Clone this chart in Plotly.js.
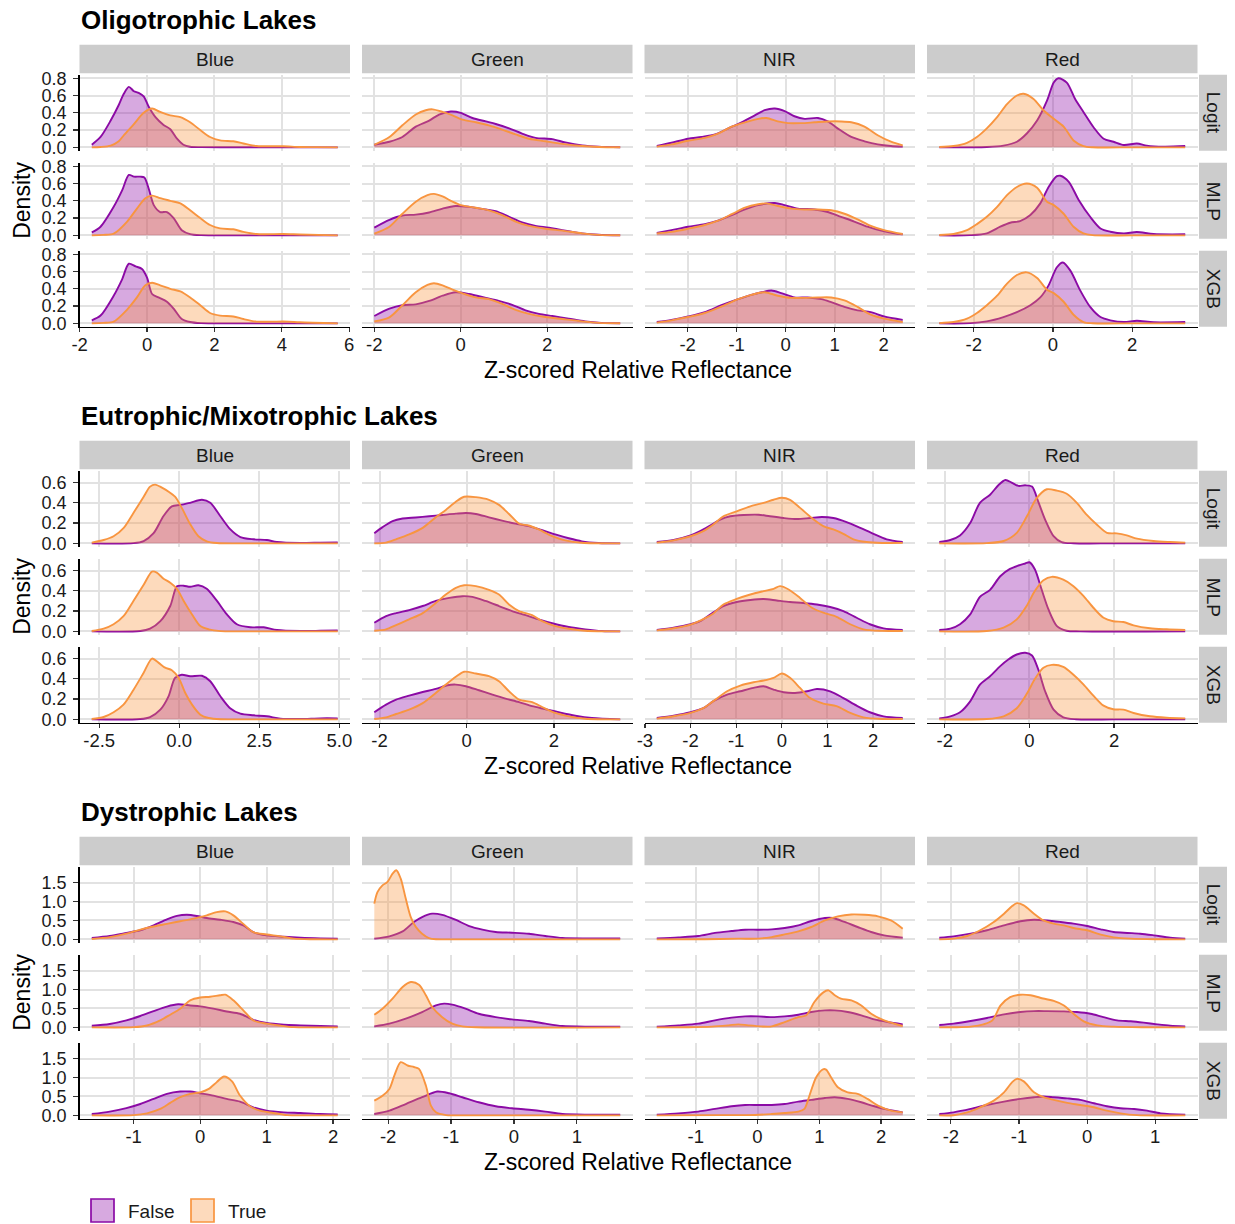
<!DOCTYPE html>
<html>
<head>
<meta charset="utf-8">
<script src="https://cdn.plot.ly/plotly-3.0.1.min.js"></script>
<style>html,body{margin:0;padding:0;background:#fff;}#chart{width:1235px;height:1224px;}</style>
</head>
<body>
<div id="chart"></div>
<script>
// ---------------- DATA (density curves: [x, density]) ----------------
var GROUP_KEYS = ['O', 'E', 'D'];
var GROUP_TITLES = ['Oligotrophic Lakes', 'Eutrophic/Mixotrophic Lakes', 'Dystrophic Lakes'];
var BANDS = ['Blue', 'Green', 'NIR', 'Red'];
var MODELS = ['Logit', 'MLP', 'XGB'];
var CLASSES = ['False', 'True'];

// ---- Oligotrophic ----
var O_Blue_Logit_F = [[-1.64,0.03],[-1.38,0.12],[-1.08,0.31],[-0.84,0.49],[-0.69,0.62],[-0.54,0.70],[-0.39,0.65],[-0.25,0.63],[-0.1,0.59],[0.05,0.47],[0.25,0.35],[0.49,0.26],[0.69,0.21],[0.89,0.10],[1.08,0.03],[1.28,0.007],[1.6,0.002],[2.5,0.001],[3.5,0],[5.66,0]];
var O_Blue_Logit_T = [[-1.64,0],[-1.38,0.004],[-1.08,0.02],[-0.84,0.07],[-0.69,0.14],[-0.39,0.27],[-0.1,0.40],[0.15,0.45],[0.39,0.41],[0.69,0.37],[0.99,0.35],[1.28,0.29],[1.58,0.20],[1.87,0.12],[2.17,0.08],[2.56,0.07],[2.86,0.045],[3.25,0.015],[3.55,0.013],[4.04,0.012],[4.53,0.004],[5.0,0.002],[5.66,0]];
var O_Blue_MLP_F = [[-1.64,0.035],[-1.38,0.10],[-0.99,0.33],[-0.74,0.52],[-0.54,0.70],[-0.39,0.68],[-0.2,0.68],[-0.08,0.67],[0.05,0.54],[0.2,0.35],[0.39,0.27],[0.59,0.27],[0.79,0.20],[1.03,0.06],[1.28,0.015],[1.6,0.002],[3,0],[5.66,0]];
var O_Blue_MLP_T = [[-1.64,0],[-1.3,0.005],[-0.99,0.02],[-0.59,0.16],[-0.3,0.31],[-0.05,0.43],[0.15,0.46],[0.39,0.43],[0.69,0.40],[0.99,0.37],[1.28,0.29],[1.58,0.20],[1.87,0.12],[2.17,0.08],[2.56,0.07],[2.86,0.04],[3.25,0.015],[4.04,0.015],[4.53,0.01],[5.66,0]];
var O_Blue_XGB_F = [[-1.64,0.035],[-1.38,0.09],[-0.99,0.32],[-0.74,0.51],[-0.54,0.69],[-0.34,0.66],[-0.15,0.63],[0,0.53],[0.15,0.34],[0.34,0.30],[0.59,0.25],[0.79,0.17],[1.03,0.05],[1.28,0.015],[1.6,0.002],[3,0],[5.66,0]];
var O_Blue_XGB_T = [[-1.64,0],[-1.3,0.005],[-0.99,0.02],[-0.59,0.16],[-0.3,0.30],[-0.05,0.44],[0.15,0.47],[0.39,0.44],[0.69,0.40],[0.99,0.37],[1.28,0.30],[1.58,0.21],[1.87,0.12],[2.17,0.09],[2.56,0.08],[2.86,0.05],[3.25,0.02],[3.7,0.02],[4.2,0.02],[4.53,0.012],[5.66,0]];

var O_Green_Logit_F = [[-2.0,0.03],[-1.65,0.065],[-1.35,0.12],[-1.04,0.24],[-0.73,0.31],[-0.5,0.38],[-0.23,0.415],[0,0.40],[0.27,0.34],[0.58,0.30],[0.81,0.27],[1.12,0.22],[1.42,0.16],[1.73,0.11],[2.12,0.095],[2.42,0.057],[2.81,0.023],[3.19,0.008],[3.69,0.001]];
var O_Green_Logit_T = [[-2.0,0.03],[-1.65,0.12],[-1.35,0.255],[-1.04,0.38],[-0.81,0.43],[-0.65,0.44],[-0.42,0.41],[-0.19,0.37],[0.04,0.32],[0.35,0.29],[0.65,0.255],[0.96,0.205],[1.27,0.15],[1.58,0.10],[1.96,0.07],[2.35,0.04],[2.81,0.015],[3.2,0.004],[3.69,0.001]];
var O_Green_MLP_F = [[-2.0,0.09],[-1.65,0.18],[-1.35,0.23],[-1.04,0.24],[-0.73,0.265],[-0.42,0.31],[-0.12,0.34],[0.19,0.33],[0.58,0.30],[0.81,0.28],[1.12,0.215],[1.42,0.15],[1.73,0.11],[2.04,0.09],[2.35,0.06],[2.81,0.023],[3.19,0.007],[3.69,0.001]];
var O_Green_MLP_T = [[-2.0,0.02],[-1.65,0.10],[-1.35,0.25],[-1.04,0.39],[-0.77,0.465],[-0.62,0.48],[-0.42,0.45],[-0.19,0.39],[0,0.35],[0.35,0.32],[0.65,0.29],[0.96,0.235],[1.27,0.16],[1.58,0.11],[1.96,0.077],[2.35,0.054],[2.81,0.023],[3.2,0.006],[3.69,0.001]];
var O_Green_XGB_F = [[-2.0,0.085],[-1.65,0.17],[-1.35,0.21],[-1.04,0.22],[-0.73,0.26],[-0.42,0.32],[-0.12,0.36],[0.19,0.34],[0.58,0.295],[0.88,0.26],[1.19,0.215],[1.5,0.15],[1.81,0.11],[2.12,0.085],[2.5,0.054],[2.88,0.023],[3.25,0.006],[3.69,0.001]];
var O_Green_XGB_T = [[-2.0,0.023],[-1.65,0.07],[-1.35,0.21],[-1.04,0.36],[-0.77,0.445],[-0.62,0.465],[-0.42,0.44],[-0.19,0.39],[0,0.355],[0.35,0.30],[0.65,0.28],[0.96,0.225],[1.27,0.155],[1.58,0.11],[1.96,0.073],[2.35,0.05],[2.81,0.023],[3.2,0.006],[3.69,0.001]];

var O_NIR_Logit_F = [[-2.63,0.015],[-2.33,0.053],[-1.99,0.10],[-1.72,0.12],[-1.44,0.15],[-1.17,0.22],[-0.9,0.29],[-0.63,0.37],[-0.43,0.43],[-0.22,0.45],[-0.02,0.42],[0.18,0.36],[0.39,0.33],[0.66,0.34],[0.86,0.30],[1.06,0.22],[1.34,0.12],[1.61,0.07],[1.88,0.034],[2.15,0.015],[2.39,0.008]];
var O_NIR_Logit_T = [[-2.63,0.008],[-2.33,0.034],[-1.99,0.076],[-1.65,0.11],[-1.38,0.16],[-1.1,0.24],[-0.83,0.29],[-0.56,0.33],[-0.39,0.34],[-0.16,0.30],[0.05,0.28],[0.32,0.28],[0.59,0.29],[0.86,0.30],[1.13,0.30],[1.34,0.29],[1.61,0.24],[1.88,0.14],[2.15,0.065],[2.39,0.023]];
var O_NIR_MLP_F = [[-2.63,0.027],[-2.33,0.06],[-1.99,0.10],[-1.65,0.13],[-1.38,0.17],[-1.1,0.235],[-0.83,0.30],[-0.56,0.35],[-0.22,0.375],[-0.02,0.35],[0.25,0.31],[0.59,0.30],[0.86,0.27],[1.13,0.215],[1.4,0.16],[1.67,0.10],[1.95,0.054],[2.22,0.023],[2.39,0.012]];
var O_NIR_MLP_T = [[-2.63,0.023],[-2.33,0.04],[-1.99,0.077],[-1.65,0.12],[-1.38,0.17],[-1.1,0.245],[-0.83,0.32],[-0.56,0.36],[-0.39,0.37],[-0.16,0.34],[0.12,0.31],[0.39,0.30],[0.66,0.30],[0.93,0.29],[1.2,0.25],[1.47,0.185],[1.74,0.11],[2.01,0.06],[2.39,0.015]];
var O_NIR_XGB_F = [[-2.63,0.015],[-2.33,0.04],[-1.99,0.08],[-1.65,0.13],[-1.31,0.21],[-0.97,0.28],[-0.7,0.33],[-0.49,0.36],[-0.29,0.38],[-0.09,0.35],[0.18,0.30],[0.45,0.30],[0.73,0.28],[0.93,0.245],[1.2,0.19],[1.47,0.15],[1.74,0.13],[2.01,0.08],[2.39,0.04]];
var O_NIR_XGB_T = [[-2.63,0.008],[-2.33,0.035],[-1.99,0.073],[-1.65,0.12],[-1.31,0.195],[-0.97,0.28],[-0.7,0.33],[-0.43,0.36],[-0.16,0.32],[0.12,0.295],[0.39,0.295],[0.66,0.30],[0.93,0.30],[1.2,0.265],[1.47,0.19],[1.74,0.10],[2.01,0.054],[2.39,0.015]];

var O_Red_Logit_F = [[-2.87,0],[-1.67,0.004],[-1.25,0.02],[-0.91,0.065],[-0.66,0.16],[-0.4,0.31],[-0.15,0.54],[0.02,0.75],[0.14,0.80],[0.35,0.75],[0.56,0.56],[0.77,0.41],[1.03,0.23],[1.28,0.10],[1.53,0.065],[1.79,0.027],[2.12,0.045],[2.37,0.02],[2.8,0.008],[3.34,0.015]];
var O_Red_Logit_T = [[-2.87,0.004],[-2.51,0.015],[-2.17,0.053],[-1.92,0.12],[-1.67,0.22],[-1.41,0.35],[-1.16,0.50],[-0.91,0.60],[-0.74,0.62],[-0.49,0.56],[-0.24,0.43],[0.02,0.33],[0.27,0.24],[0.52,0.08],[0.77,0.015],[1.0,0.001],[2,0],[3.34,0]];
var O_Red_MLP_F = [[-2.87,0],[-2.09,0.002],[-1.67,0.023],[-1.33,0.10],[-1.08,0.146],[-0.83,0.165],[-0.57,0.235],[-0.32,0.37],[-0.11,0.56],[0.1,0.685],[0.19,0.69],[0.4,0.62],[0.65,0.41],[0.94,0.215],[1.2,0.08],[1.45,0.042],[1.79,0.023],[2.12,0.038],[2.54,0.015],[3.34,0.012]];
var O_Red_MLP_T = [[-2.87,0.004],[-2.51,0.015],[-2.17,0.06],[-1.92,0.13],[-1.67,0.215],[-1.41,0.33],[-1.16,0.465],[-0.91,0.56],[-0.66,0.60],[-0.4,0.55],[-0.15,0.39],[0.02,0.35],[0.27,0.25],[0.52,0.10],[0.77,0.023],[1.0,0.002],[2,0],[3.34,0]];
var O_Red_XGB_F = [[-2.87,0],[-2.09,0.002],[-1.67,0.023],[-1.25,0.073],[-0.91,0.13],[-0.57,0.21],[-0.32,0.30],[-0.11,0.44],[0.1,0.65],[0.25,0.705],[0.44,0.61],[0.69,0.38],[0.94,0.19],[1.2,0.073],[1.45,0.035],[1.79,0.015],[2.12,0.03],[2.54,0.012],[3.34,0.015]];
var O_Red_XGB_T = [[-2.87,0.003],[-2.51,0.015],[-2.17,0.054],[-1.92,0.12],[-1.67,0.21],[-1.41,0.32],[-1.16,0.46],[-0.91,0.56],[-0.66,0.59],[-0.4,0.525],[-0.15,0.39],[0.02,0.35],[0.27,0.25],[0.52,0.10],[0.77,0.015],[1.0,0.001],[2,0],[3.34,0]];

// ---- Eutrophic / Mixotrophic ----
var E_Blue_Logit_F = [[-2.73,0],[-1.43,0.002],[-1.11,0.023],[-0.8,0.10],[-0.49,0.27],[-0.23,0.365],[0.03,0.38],[0.34,0.40],[0.71,0.43],[0.97,0.40],[1.28,0.27],[1.59,0.14],[1.91,0.062],[2.32,0.04],[2.74,0.033],[3.05,0.013],[3.78,0.003],[4.4,0.007],[4.95,0.01]];
var E_Blue_Logit_T = [[-2.73,0.007],[-2.36,0.033],[-2.05,0.07],[-1.74,0.15],[-1.43,0.30],[-1.11,0.46],[-0.91,0.56],[-0.75,0.58],[-0.54,0.55],[-0.33,0.51],[-0.13,0.46],[0.08,0.35],[0.34,0.19],[0.6,0.07],[0.86,0.02],[1.18,0.003],[2,0],[4.95,0]];
var E_Blue_MLP_F = [[-2.73,0],[-1.22,0.003],[-0.91,0.026],[-0.59,0.10],[-0.28,0.25],[-0.07,0.445],[0.14,0.45],[0.34,0.44],[0.6,0.455],[0.86,0.42],[1.18,0.30],[1.49,0.167],[1.8,0.07],[2.22,0.04],[2.64,0.04],[3.05,0.013],[3.78,0.003],[4.4,0.006],[4.95,0.01]];
var E_Blue_MLP_T = [[-2.73,0.003],[-2.36,0.026],[-2.05,0.07],[-1.74,0.15],[-1.43,0.30],[-1.11,0.46],[-0.85,0.59],[-0.7,0.58],[-0.49,0.52],[-0.28,0.48],[-0.07,0.42],[0.14,0.30],[0.4,0.167],[0.66,0.052],[0.92,0.02],[1.3,0.002],[2,0],[4.95,0]];
var E_Blue_XGB_F = [[-2.73,0],[-1.22,0.003],[-0.91,0.023],[-0.59,0.096],[-0.33,0.23],[-0.13,0.41],[0.08,0.44],[0.34,0.425],[0.71,0.43],[0.97,0.376],[1.28,0.23],[1.59,0.11],[1.91,0.056],[2.32,0.04],[2.74,0.03],[3.16,0.007],[3.78,0.003],[4.4,0.01],[4.95,0.01]];
var E_Blue_XGB_T = [[-2.73,0.003],[-2.36,0.023],[-2.05,0.07],[-1.74,0.145],[-1.43,0.29],[-1.11,0.46],[-0.85,0.60],[-0.65,0.56],[-0.44,0.51],[-0.23,0.485],[-0.02,0.41],[0.19,0.26],[0.4,0.145],[0.66,0.046],[0.92,0.013],[1.3,0.001],[2,0],[4.95,0]];

var E_Green_Logit_F = [[-2.12,0.10],[-1.93,0.16],[-1.7,0.22],[-1.47,0.245],[-1.17,0.255],[-0.86,0.267],[-0.56,0.28],[-0.25,0.293],[-0.02,0.30],[0.21,0.29],[0.51,0.257],[0.81,0.225],[1.12,0.195],[1.42,0.17],[1.73,0.13],[2.03,0.088],[2.34,0.05],[2.64,0.02],[3.02,0.004],[3.52,0]];
var E_Green_Logit_T = [[-2.12,0],[-1.85,0.007],[-1.62,0.04],[-1.32,0.088],[-1.01,0.153],[-0.71,0.257],[-0.48,0.33],[-0.25,0.41],[-0.06,0.46],[0.21,0.456],[0.51,0.43],[0.74,0.38],[0.97,0.29],[1.2,0.195],[1.42,0.176],[1.65,0.137],[1.96,0.072],[2.26,0.03],[2.64,0.006],[3.52,0]];
var E_Green_MLP_F = [[-2.12,0.085],[-1.85,0.15],[-1.62,0.18],[-1.32,0.21],[-1.01,0.25],[-0.71,0.30],[-0.4,0.33],[-0.1,0.347],[0.13,0.34],[0.43,0.30],[0.74,0.25],[1.04,0.20],[1.35,0.16],[1.65,0.118],[1.96,0.08],[2.34,0.043],[2.72,0.02],[3.1,0.004],[3.52,0]];
var E_Green_MLP_T = [[-2.12,0.006],[-1.85,0.02],[-1.62,0.062],[-1.32,0.118],[-1.01,0.18],[-0.71,0.28],[-0.48,0.364],[-0.25,0.43],[-0.06,0.455],[0.21,0.446],[0.51,0.41],[0.74,0.364],[0.97,0.265],[1.2,0.20],[1.5,0.16],[1.73,0.10],[2.03,0.052],[2.34,0.026],[2.72,0.006],[3.52,0]];
var E_Green_XGB_F = [[-2.12,0.07],[-1.85,0.145],[-1.62,0.195],[-1.32,0.234],[-1.01,0.27],[-0.71,0.30],[-0.44,0.337],[-0.25,0.343],[-0.02,0.327],[0.28,0.287],[0.59,0.244],[0.89,0.205],[1.2,0.17],[1.5,0.13],[1.81,0.10],[2.11,0.07],[2.49,0.036],[2.87,0.013],[3.52,0]];
var E_Green_XGB_T = [[-2.12,0.003],[-1.85,0.02],[-1.62,0.053],[-1.32,0.096],[-1.01,0.16],[-0.71,0.26],[-0.48,0.343],[-0.25,0.42],[-0.06,0.47],[0.21,0.452],[0.51,0.426],[0.74,0.376],[0.97,0.277],[1.2,0.195],[1.5,0.17],[1.73,0.122],[2.03,0.063],[2.34,0.03],[2.72,0.006],[3.52,0]];

var E_NIR_Logit_F = [[-2.74,0.013],[-2.37,0.033],[-2.0,0.078],[-1.79,0.12],[-1.57,0.176],[-1.35,0.235],[-1.13,0.267],[-0.84,0.28],[-0.51,0.283],[-0.26,0.267],[0.04,0.25],[0.33,0.24],[0.62,0.25],[0.88,0.26],[1.13,0.25],[1.42,0.21],[1.72,0.153],[2.01,0.094],[2.3,0.04],[2.65,0.013]];
var E_NIR_Logit_T = [[-2.74,0.007],[-2.37,0.03],[-2.0,0.07],[-1.72,0.12],[-1.5,0.186],[-1.28,0.267],[-0.99,0.316],[-0.69,0.365],[-0.4,0.40],[-0.18,0.43],[0,0.45],[0.18,0.43],[0.4,0.35],[0.66,0.25],[0.91,0.17],[1.13,0.137],[1.35,0.094],[1.57,0.04],[1.86,0.013],[2.2,0.004],[2.65,0.005]];
var E_NIR_MLP_F = [[-2.74,0.013],[-2.37,0.036],[-2.0,0.07],[-1.79,0.10],[-1.57,0.167],[-1.28,0.25],[-0.99,0.29],[-0.69,0.31],[-0.4,0.32],[-0.11,0.305],[0.18,0.29],[0.47,0.28],[0.77,0.265],[1.06,0.24],[1.35,0.20],[1.64,0.134],[1.93,0.07],[2.23,0.03],[2.65,0.013]];
var E_NIR_MLP_T = [[-2.74,0.01],[-2.37,0.03],[-2.0,0.066],[-1.72,0.12],[-1.5,0.177],[-1.28,0.265],[-0.99,0.32],[-0.69,0.364],[-0.4,0.397],[-0.18,0.42],[-0.04,0.446],[0.15,0.413],[0.4,0.33],[0.66,0.233],[0.91,0.184],[1.2,0.144],[1.5,0.07],[1.79,0.02],[2.2,0.005],[2.65,0.003]];
var E_NIR_XGB_F = [[-2.74,0.013],[-2.37,0.036],[-2.0,0.07],[-1.72,0.11],[-1.5,0.18],[-1.2,0.244],[-0.91,0.277],[-0.62,0.31],[-0.4,0.327],[-0.18,0.294],[0.04,0.267],[0.29,0.26],[0.55,0.277],[0.77,0.30],[1.06,0.277],[1.35,0.21],[1.64,0.135],[1.93,0.07],[2.23,0.03],[2.65,0.013]];
var E_NIR_XGB_T = [[-2.74,0.007],[-2.37,0.03],[-2.0,0.063],[-1.72,0.11],[-1.5,0.18],[-1.2,0.277],[-0.91,0.333],[-0.62,0.366],[-0.4,0.383],[-0.18,0.41],[0,0.452],[0.18,0.41],[0.4,0.31],[0.62,0.21],[0.91,0.155],[1.2,0.13],[1.5,0.063],[1.79,0.02],[2.2,0.004],[2.65,0.003]];

var E_Red_Logit_F = [[-2.13,0.013],[-1.87,0.033],[-1.64,0.078],[-1.4,0.20],[-1.17,0.40],[-0.93,0.48],[-0.73,0.576],[-0.57,0.625],[-0.42,0.60],[-0.26,0.567],[-0.1,0.573],[0.06,0.56],[0.21,0.41],[0.37,0.235],[0.57,0.072],[0.76,0.013],[1.04,0.001],[2,0],[3.68,0]];
var E_Red_Logit_T = [[-2.13,0],[-1.01,0.002],[-0.61,0.023],[-0.3,0.104],[-0.06,0.267],[0.17,0.446],[0.41,0.534],[0.65,0.52],[0.88,0.49],[1.12,0.40],[1.35,0.283],[1.59,0.186],[1.83,0.104],[2.06,0.098],[2.3,0.078],[2.54,0.046],[2.93,0.023],[3.32,0.013],[3.68,0.007]];
var E_Red_MLP_F = [[-2.13,0.013],[-1.87,0.026],[-1.64,0.07],[-1.4,0.167],[-1.17,0.34],[-0.93,0.41],[-0.69,0.544],[-0.46,0.616],[-0.26,0.65],[-0.1,0.67],[0,0.682],[0.13,0.61],[0.29,0.41],[0.45,0.216],[0.65,0.052],[0.88,0.006],[1.2,0],[3.68,0]];
var E_Red_MLP_T = [[-2.13,0],[-1.01,0.003],[-0.61,0.036],[-0.3,0.118],[-0.06,0.256],[0.13,0.40],[0.33,0.505],[0.53,0.538],[0.8,0.51],[1.04,0.446],[1.28,0.348],[1.51,0.233],[1.75,0.134],[1.98,0.10],[2.22,0.092],[2.46,0.059],[2.85,0.03],[3.24,0.02],[3.68,0.013]];
var E_Red_XGB_F = [[-2.13,0.01],[-1.87,0.03],[-1.64,0.07],[-1.4,0.178],[-1.17,0.343],[-0.93,0.426],[-0.69,0.525],[-0.5,0.59],[-0.3,0.64],[-0.1,0.657],[0.06,0.63],[0.21,0.49],[0.37,0.277],[0.57,0.096],[0.8,0.02],[1.1,0.001],[2,0],[3.68,0]];
var E_Red_XGB_T = [[-2.13,0],[-1.01,0.003],[-0.61,0.03],[-0.3,0.11],[-0.06,0.254],[0.13,0.40],[0.33,0.51],[0.53,0.538],[0.8,0.518],[1.04,0.44],[1.28,0.343],[1.51,0.234],[1.75,0.135],[1.98,0.10],[2.22,0.096],[2.46,0.063],[2.85,0.03],[3.24,0.016],[3.68,0.01]];

// ---- Dystrophic ----
var D_Blue_Logit_F = [[-1.63,0.035],[-1.36,0.09],[-1.11,0.17],[-0.9,0.24],[-0.7,0.37],[-0.5,0.53],[-0.35,0.62],[-0.2,0.65],[-0.05,0.62],[0.1,0.565],[0.3,0.52],[0.5,0.46],[0.65,0.37],[0.8,0.19],[1.0,0.106],[1.26,0.07],[1.51,0.044],[1.81,0.026],[2.07,0.018]];
var D_Blue_Logit_T = [[-1.63,0.01],[-1.36,0.06],[-1.11,0.15],[-0.9,0.256],[-0.7,0.34],[-0.5,0.41],[-0.3,0.48],[-0.1,0.55],[0.1,0.635],[0.25,0.72],[0.38,0.74],[0.5,0.635],[0.65,0.41],[0.8,0.19],[1.0,0.13],[1.21,0.08],[1.41,0.018],[1.7,0.002],[2.07,0]];
var D_Blue_MLP_F = [[-1.63,0.044],[-1.36,0.09],[-1.11,0.185],[-0.9,0.30],[-0.7,0.43],[-0.5,0.55],[-0.33,0.61],[-0.15,0.58],[0,0.556],[0.2,0.494],[0.4,0.42],[0.6,0.36],[0.8,0.20],[1.0,0.115],[1.26,0.07],[1.51,0.053],[1.81,0.035],[2.07,0.026]];
var D_Blue_MLP_T = [[-1.63,0],[-1.0,0.005],[-0.8,0.05],[-0.6,0.185],[-0.45,0.335],[-0.3,0.494],[-0.15,0.715],[0,0.79],[0.15,0.81],[0.3,0.85],[0.38,0.865],[0.5,0.715],[0.65,0.45],[0.8,0.185],[1.0,0.097],[1.21,0.044],[1.41,0.005],[1.7,0],[2.07,0]];
var D_Blue_XGB_F = [[-1.63,0.035],[-1.36,0.10],[-1.11,0.19],[-0.9,0.30],[-0.7,0.435],[-0.5,0.57],[-0.3,0.63],[-0.15,0.63],[0,0.585],[0.2,0.524],[0.4,0.435],[0.6,0.364],[0.8,0.213],[1.0,0.124],[1.26,0.08],[1.51,0.062],[1.81,0.035],[2.07,0.027]];
var D_Blue_XGB_T = [[-1.63,0],[-1.0,0.005],[-0.8,0.053],[-0.6,0.17],[-0.45,0.33],[-0.3,0.48],[-0.15,0.57],[0,0.61],[0.13,0.70],[0.25,0.88],[0.36,1.03],[0.48,0.90],[0.6,0.524],[0.75,0.24],[0.9,0.124],[1.1,0.062],[1.31,0.005],[1.7,0],[2.07,0]];

var D_Green_Logit_F = [[-2.22,0.018],[-1.98,0.08],[-1.77,0.21],[-1.59,0.46],[-1.46,0.59],[-1.3,0.68],[-1.14,0.65],[-0.93,0.52],[-0.71,0.35],[-0.5,0.256],[-0.29,0.194],[-0.03,0.176],[0.24,0.15],[0.5,0.088],[0.77,0.035],[1.19,0.026],[1.69,0.026]];
var D_Green_Logit_T = [[-2.22,0.945],[-2.17,1.25],[-2.09,1.43],[-2.01,1.52],[-1.93,1.74],[-1.87,1.83],[-1.8,1.61],[-1.72,1.08],[-1.64,0.59],[-1.56,0.33],[-1.46,0.15],[-1.35,0.035],[-1.24,0.002],[-1.0,0],[1.69,0]];
var D_Green_MLP_F = [[-2.22,0.026],[-1.98,0.097],[-1.72,0.23],[-1.46,0.406],[-1.24,0.58],[-1.11,0.627],[-0.98,0.60],[-0.77,0.494],[-0.56,0.36],[-0.29,0.27],[-0.03,0.21],[0.24,0.168],[0.5,0.097],[0.77,0.035],[1.19,0.018],[1.69,0.018]];
var D_Green_MLP_T = [[-2.22,0.335],[-2.09,0.494],[-1.93,0.76],[-1.77,1.07],[-1.64,1.2],[-1.51,1.13],[-1.4,0.85],[-1.3,0.54],[-1.14,0.27],[-0.98,0.097],[-0.82,0.026],[-0.6,0.001],[1.69,0]];
var D_Green_XGB_F = [[-2.22,0.035],[-1.98,0.124],[-1.72,0.30],[-1.46,0.48],[-1.22,0.63],[-1.03,0.585],[-0.82,0.48],[-0.56,0.346],[-0.29,0.24],[-0.03,0.186],[0.24,0.15],[0.5,0.10],[0.77,0.035],[1.19,0.018],[1.69,0.018]];
var D_Green_XGB_T = [[-2.22,0.39],[-2.09,0.52],[-1.98,0.70],[-1.9,1.06],[-1.8,1.41],[-1.69,1.32],[-1.59,1.28],[-1.51,1.23],[-1.4,0.79],[-1.32,0.257],[-1.24,0.08],[-1.08,0.005],[-0.9,0],[1.69,0]];

var D_NIR_Logit_F = [[-1.63,0.026],[-1.28,0.053],[-0.96,0.088],[-0.69,0.17],[-0.42,0.22],[-0.2,0.256],[0.01,0.256],[0.23,0.265],[0.44,0.30],[0.66,0.37],[0.87,0.485],[1.09,0.565],[1.22,0.565],[1.41,0.46],[1.62,0.327],[1.84,0.194],[2.05,0.106],[2.35,0.044]];
var D_NIR_Logit_T = [[-1.63,0],[-0.85,0.002],[-0.31,0.018],[0.01,0.02],[0.23,0.06],[0.44,0.13],[0.66,0.21],[0.87,0.327],[1.09,0.50],[1.3,0.61],[1.52,0.66],[1.73,0.65],[1.95,0.61],[2.16,0.50],[2.35,0.28]];
var D_NIR_MLP_F = [[-1.63,0.018],[-1.28,0.053],[-0.96,0.097],[-0.69,0.185],[-0.42,0.256],[-0.2,0.29],[0.01,0.29],[0.23,0.27],[0.44,0.29],[0.66,0.335],[0.87,0.406],[1.09,0.45],[1.25,0.45],[1.46,0.406],[1.68,0.318],[1.89,0.21],[2.11,0.14],[2.35,0.08]];
var D_NIR_MLP_T = [[-1.63,0],[-1.12,0.002],[-0.74,0.018],[-0.47,0.053],[-0.31,0.08],[-0.15,0.053],[0.06,0.026],[0.23,0.026],[0.44,0.14],[0.66,0.27],[0.79,0.318],[0.92,0.67],[1.06,0.92],[1.15,0.98],[1.25,0.85],[1.35,0.76],[1.52,0.715],[1.68,0.58],[1.84,0.36],[2.05,0.185],[2.35,0.035]];
var D_NIR_XGB_F = [[-1.63,0.018],[-1.28,0.053],[-0.96,0.10],[-0.69,0.17],[-0.42,0.24],[-0.2,0.275],[0.01,0.275],[0.23,0.275],[0.44,0.30],[0.66,0.364],[0.87,0.41],[1.09,0.46],[1.25,0.48],[1.46,0.435],[1.68,0.346],[1.89,0.24],[2.11,0.15],[2.35,0.08]];
var D_NIR_XGB_T = [[-1.63,0],[-0.58,0.005],[-0.04,0.01],[0.23,0.035],[0.44,0.062],[0.66,0.10],[0.76,0.17],[0.84,0.52],[0.95,1.01],[1.06,1.22],[1.11,1.21],[1.19,1.01],[1.3,0.745],[1.46,0.61],[1.62,0.57],[1.78,0.435],[1.95,0.257],[2.16,0.124],[2.35,0.08]];

var D_Red_Logit_F = [[-2.17,0.044],[-1.96,0.08],[-1.71,0.15],[-1.47,0.24],[-1.22,0.37],[-0.98,0.48],[-0.78,0.52],[-0.59,0.50],[-0.39,0.46],[-0.2,0.415],[0,0.353],[0.2,0.265],[0.39,0.194],[0.59,0.17],[0.78,0.15],[0.98,0.106],[1.22,0.044],[1.44,0.018]];
var D_Red_Logit_T = [[-2.17,0],[-1.96,0.018],[-1.76,0.088],[-1.57,0.24],[-1.37,0.46],[-1.22,0.68],[-1.1,0.88],[-1.03,0.96],[-0.93,0.90],[-0.78,0.68],[-0.64,0.50],[-0.49,0.415],[-0.34,0.37],[-0.2,0.30],[0,0.24],[0.2,0.124],[0.39,0.053],[0.64,0.018],[1.0,0.002],[1.44,0]];
var D_Red_MLP_F = [[-2.17,0.062],[-1.96,0.097],[-1.71,0.168],[-1.47,0.247],[-1.22,0.344],[-0.98,0.406],[-0.78,0.43],[-0.59,0.43],[-0.34,0.424],[-0.15,0.406],[0.05,0.36],[0.24,0.27],[0.44,0.185],[0.64,0.16],[0.83,0.124],[1.03,0.08],[1.22,0.044],[1.44,0.026]];
var D_Red_MLP_T = [[-2.17,0],[-1.96,0.003],[-1.71,0.018],[-1.52,0.08],[-1.39,0.185],[-1.27,0.58],[-1.13,0.80],[-0.98,0.865],[-0.83,0.85],[-0.69,0.785],[-0.49,0.70],[-0.34,0.58],[-0.2,0.36],[-0.05,0.16],[0.15,0.053],[0.39,0.018],[0.8,0.001],[1.44,0]];
var D_Red_XGB_F = [[-2.17,0.035],[-1.96,0.08],[-1.71,0.17],[-1.47,0.275],[-1.22,0.364],[-0.98,0.435],[-0.78,0.48],[-0.64,0.50],[-0.49,0.48],[-0.29,0.45],[-0.1,0.41],[0.1,0.32],[0.29,0.24],[0.49,0.186],[0.69,0.17],[0.88,0.124],[1.08,0.053],[1.44,0.018]];
var D_Red_XGB_T = [[-2.17,0],[-1.96,0.003],[-1.76,0.08],[-1.57,0.213],[-1.37,0.39],[-1.22,0.61],[-1.1,0.88],[-1.03,0.967],[-0.93,0.90],[-0.78,0.61],[-0.64,0.48],[-0.49,0.41],[-0.29,0.33],[-0.1,0.275],[0.1,0.213],[0.29,0.124],[0.49,0.053],[0.73,0.005],[1.44,0]];

// ---- Tick values / labels ----
var O_Blue_ticks = [-2, 0, 2, 4, 6];        var O_Blue_labels = ['-2', '0', '2', '4', '6'];
var O_Green_ticks = [-2, 0, 2];             var O_Green_labels = ['-2', '0', '2'];
var O_NIR_ticks = [-2, -1, 0, 1, 2];        var O_NIR_labels = ['-2', '-1', '0', '1', '2'];
var O_Red_ticks = [-2, 0, 2];               var O_Red_labels = ['-2', '0', '2'];
var E_Blue_ticks = [-2.5, 0, 2.5, 5];       var E_Blue_labels = ['-2.5', '0.0', '2.5', '5.0'];
var E_Green_ticks = [-2, 0, 2];             var E_Green_labels = ['-2', '0', '2'];
var E_NIR_ticks = [-3, -2, -1, 0, 1, 2];    var E_NIR_labels = ['-3', '-2', '-1', '0', '1', '2'];
var E_Red_ticks = [-2, 0, 2];               var E_Red_labels = ['-2', '0', '2'];
var D_Blue_ticks = [-1, 0, 1, 2];           var D_Blue_labels = ['-1', '0', '1', '2'];
var D_Green_ticks = [-2, -1, 0, 1];         var D_Green_labels = ['-2', '-1', '0', '1'];
var D_NIR_ticks = [-1, 0, 1, 2];            var D_NIR_labels = ['-1', '0', '1', '2'];
var D_Red_ticks = [-2, -1, 0, 1];           var D_Red_labels = ['-2', '-1', '0', '1'];
var O_yticks = [0, 0.2, 0.4, 0.6, 0.8];     var O_ylabels = ['0.0', '0.2', '0.4', '0.6', '0.8'];
var E_yticks = [0, 0.2, 0.4, 0.6];          var E_ylabels = ['0.0', '0.2', '0.4', '0.6'];
var D_yticks = [0, 0.5, 1, 1.5];            var D_ylabels = ['0.0', '0.5', '1.0', '1.5'];

// ---------------- STYLE / LAYOUT ----------------
var W = 1235, H = 1224;
var FONT = 'Liberation Sans, Arial, Helvetica, sans-serif';
var LINE_COL = {False: '#8B0AA5', True: '#F89540'};
var FILL_COL = {False: 'rgba(139,10,165,0.35)', True: 'rgba(248,149,64,0.35)'};
var GRID_COL = '#E2E2E2';
var colLeft = [79.5, 362, 644.5, 927], panelW = 270.5;
var grpTop = [74.8, 470.8, 866.8], rowStep = 88, panelH = 76;

function fx(p) { return p / W; }
function fy(p) { return 1 - p / H; }
function get(name) { return window[name]; }

var traces = [], layout = {
  width: W, height: H, margin: {l: 0, r: 0, t: 0, b: 0},
  paper_bgcolor: '#ffffff', plot_bgcolor: '#ffffff', showlegend: false,
  font: {family: FONT, color: '#000'}, shapes: [], annotations: []
};

GROUP_KEYS.forEach(function (g, gi) {
  // shared y scale for the whole group (ggplot fixed y)
  var ymax = 0;
  BANDS.forEach(function (b) { MODELS.forEach(function (m) { ['F', 'T'].forEach(function (k) {
    get(g + '_' + b + '_' + m + '_' + k).forEach(function (p) { if (p[1] > ymax) ymax = p[1]; });
  }); }); });
  var yr = [-0.05 * ymax, 1.05 * ymax];

  BANDS.forEach(function (b, ci) {
    var xmin = Infinity, xmax = -Infinity;
    MODELS.forEach(function (m) { ['F', 'T'].forEach(function (k) {
      get(g + '_' + b + '_' + m + '_' + k).forEach(function (p) { xmin = Math.min(xmin, p[0]); xmax = Math.max(xmax, p[0]); });
    }); });
    var span = xmax - xmin, xr = [xmin - 0.05 * span, xmax + 0.05 * span];

    MODELS.forEach(function (m, ri) {
      var n = gi * 12 + ri * 4 + ci + 1;
      var xa = n === 1 ? 'x' : 'x' + n, ya = n === 1 ? 'y' : 'y' + n;
      var top = grpTop[gi] + ri * rowStep;
      var bottomRow = ri === 2, firstCol = ci === 0;
      layout['xaxis' + (n === 1 ? '' : n)] = {
        domain: [fx(colLeft[ci]), fx(colLeft[ci] + panelW)], anchor: ya, range: xr,
        tickmode: 'array', tickvals: get(g + '_' + b + '_ticks'), ticktext: get(g + '_' + b + '_labels'),
        showticklabels: bottomRow, ticks: bottomRow ? 'outside' : '', ticklen: 4, tickwidth: 1.2, tickcolor: '#333',
        ticklabelstandoff: -3,
        showline: bottomRow, linecolor: '#000', linewidth: 1.4,
        showgrid: true, gridcolor: GRID_COL, gridwidth: 2, zeroline: false, fixedrange: true,
        tickfont: {family: FONT, size: 18.5, color: '#1a1a1a'}
      };
      layout['yaxis' + (n === 1 ? '' : n)] = {
        domain: [fy(top + panelH), fy(top)], anchor: xa, range: yr,
        tickmode: 'array', tickvals: get(g + '_yticks'), ticktext: get(g + '_ylabels'),
        showticklabels: firstCol, ticks: firstCol ? 'outside' : '', ticklen: 5, tickwidth: 1.2, tickcolor: '#333',
        ticklabelstandoff: 3,
        showline: firstCol, linecolor: '#000', linewidth: 1.4,
        showgrid: true, gridcolor: GRID_COL, gridwidth: 2, zeroline: false, fixedrange: true,
        tickfont: {family: FONT, size: 18, color: '#1a1a1a'}
      };
      ['F', 'T'].forEach(function (k, ki) {
        var arr = get(g + '_' + b + '_' + m + '_' + k), cls = CLASSES[ki];
        traces.push({
          type: 'scatter', mode: 'lines', xaxis: xa, yaxis: ya,
          x: arr.map(function (p) { return p[0]; }), y: arr.map(function (p) { return p[1]; }),
          fill: 'tozeroy', fillcolor: FILL_COL[cls],
          line: {color: LINE_COL[cls], width: 1.9, shape: 'spline', smoothing: 0.8},
          hoverinfo: 'skip', name: cls
        });
      });
      // right-hand facet strip (model)
      if (ci === 3) {
        layout.shapes.push({type: 'rect', xref: 'paper', yref: 'paper', x0: fx(1199), x1: fx(1227),
          y0: fy(top + panelH), y1: fy(top), fillcolor: '#CCCCCC', line: {width: 0}, layer: 'below'});
        layout.annotations.push({xref: 'paper', yref: 'paper', x: fx(1213), y: fy(top + panelH / 2), text: m,
          showarrow: false, textangle: 90, font: {family: FONT, size: 19, color: '#1a1a1a'}, xanchor: 'center', yanchor: 'middle'});
      }
    });
    // top facet strip (band)
    layout.shapes.push({type: 'rect', xref: 'paper', yref: 'paper', x0: fx(colLeft[ci]), x1: fx(colLeft[ci] + panelW),
      y0: fy(grpTop[gi] - 1.5), y1: fy(grpTop[gi] - 30), fillcolor: '#CCCCCC', line: {width: 0}, layer: 'below'});
    layout.annotations.push({xref: 'paper', yref: 'paper', x: fx(colLeft[ci] + panelW / 2), y: fy(grpTop[gi] - 15.5), text: b,
      showarrow: false, font: {family: FONT, size: 19, color: '#1a1a1a'}, xanchor: 'center', yanchor: 'middle'});
  });

  // group title, axis titles
  layout.annotations.push({xref: 'paper', yref: 'paper', x: fx(79), y: fy(grpTop[gi] - 55), text: '<b>' + GROUP_TITLES[gi] + '</b>',
    showarrow: false, xanchor: 'left', yanchor: 'middle', font: {family: FONT, size: 26, color: '#000'}});
  layout.annotations.push({xref: 'paper', yref: 'paper', x: fx(638), y: fy(grpTop[gi] + 295), text: 'Z-scored Relative Reflectance',
    showarrow: false, xanchor: 'center', yanchor: 'middle', font: {family: FONT, size: 23, color: '#000'}});
  layout.annotations.push({xref: 'paper', yref: 'paper', x: fx(22), y: fy(grpTop[gi] + 126), text: 'Density', textangle: -90,
    showarrow: false, xanchor: 'center', yanchor: 'middle', font: {family: FONT, size: 23, color: '#000'}});
});

// legend (drawn as keys + labels)
var legendX = [91, 191];
CLASSES.forEach(function (cls, i) {
  layout.shapes.push({type: 'rect', xref: 'paper', yref: 'paper', x0: fx(legendX[i]), x1: fx(legendX[i] + 23),
    y0: fy(1222), y1: fy(1199), fillcolor: FILL_COL[cls], line: {color: LINE_COL[cls], width: 1.7}});
  layout.annotations.push({xref: 'paper', yref: 'paper', x: fx(legendX[i] + 35), y: fy(1211), text: cls,
    showarrow: false, xanchor: 'left', yanchor: 'middle', font: {family: FONT, size: 19, color: '#1a1a1a'}});
});

Plotly.newPlot('chart', traces, layout, {displayModeBar: false, staticPlot: true});
</script>
</body>
</html>
